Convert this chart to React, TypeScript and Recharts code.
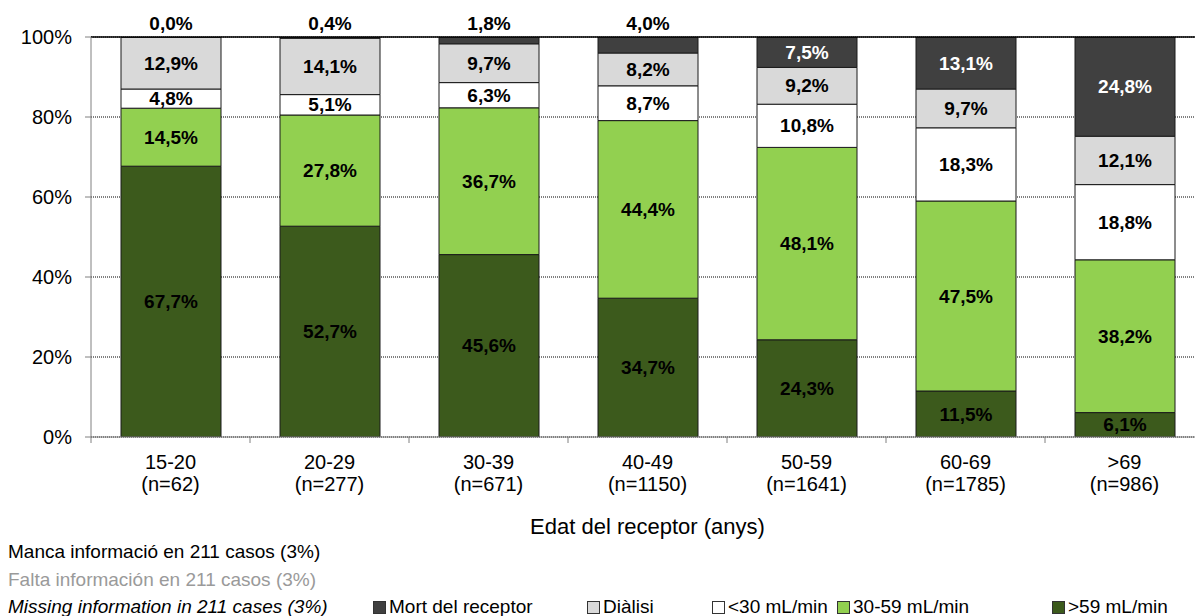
import { BarChart, Bar, XAxis, YAxis, CartesianGrid, ReferenceLine, LabelList } from 'recharts';

const ages = ['15-20', '20-29', '30-39', '40-49', '50-59', '60-69', '>69'];
const nCases = ['(n=62)', '(n=277)', '(n=671)', '(n=1150)', '(n=1641)', '(n=1785)', '(n=986)'];

// percentages, bottom to top of each stack
const over59 = [67.7, 52.7, 45.6, 34.7, 24.3, 11.5, 6.1];
const from30to59 = [14.5, 27.8, 36.7, 44.4, 48.1, 47.5, 38.2];
const under30 = [4.8, 5.1, 6.3, 8.7, 10.8, 18.3, 18.8];
const dialysis = [12.9, 14.1, 9.7, 8.2, 9.2, 9.7, 12.1];
const death = [0.0, 0.4, 1.8, 4.0, 7.5, 13.1, 24.8];

const yTicks = [0, 20, 40, 60, 80, 100];

const notes = [
  'Manca informació en 211 casos (3%)',
  'Falta información en 211 casos (3%)',
  'Missing information in 211 cases (3%)',
];

const series = [
  { key: 'death', name: 'Mort del receptor', color: '#404040' },
  { key: 'dialysis', name: 'Diàlisi', color: '#D9D9D9' },
  { key: 'under30', name: '<30 mL/min', color: '#FFFFFF' },
  { key: 'from30to59', name: '30-59 mL/min', color: '#92D050' },
  { key: 'over59', name: '>59 mL/min', color: '#3C5A1C' },
];

const data = ages.map((age, i) => ({
  age,
  over59: over59[i],
  from30to59: from30to59[i],
  under30: under30[i],
  dialysis: dialysis[i],
  death: death[i],
}));

const FONT = '"Liberation Sans", Arial, sans-serif';
const legendLeft = [373, 587, 712, 837, 1052];

const fmt = (v: number) => `${v.toFixed(1).replace('.', ',')}%`;

const SegmentLabel = (props: any) => {
  const { x, y, width, height, value } = props;
  if (value == null) return null;
  return (
    <text
      x={x + width / 2}
      y={y + height / 2}
      textAnchor="middle"
      dominantBaseline="central"
      fontFamily={FONT}
      fontWeight="bold"
      fontSize={19}
      fill="#000"
    >
      {fmt(Number(value))}
    </text>
  );
};

// dialysis label also carries the small "death" values that sit above the bar
const DialysisLabel = (props: any) => {
  const { x, y, width, height, value, index } = props;
  const d = death[index];
  const deathH = value ? (height * d) / Number(value) : 0;
  return (
    <g>
      <SegmentLabel {...props} />
      {d < 5 && (
        <text x={x + width / 2} y={y - deathH - 7} textAnchor="middle" fontFamily={FONT} fontWeight="bold" fontSize={19} fill="#000">
          {fmt(d)}
        </text>
      )}
    </g>
  );
};

const DeathLabel = (props: any) => {
  const { x, y, width, height, value } = props;
  const v = Number(value);
  if (v < 5) return null;
  return (
    <text
      x={x + width / 2}
      y={y + height / 2}
      textAnchor="middle"
      dominantBaseline="central"
      fontFamily={FONT}
      fontWeight="bold"
      fontSize={19}
      fill="#fff"
    >
      {fmt(v)}
    </text>
  );
};

const AgeTick = (props: any) => {
  const { x, y, payload, index } = props;
  const half = payload && payload.offset ? payload.offset : 79.5;
  const axisY = y - 8;
  return (
    <g>
      <line x1={x - half} x2={x - half} y1={axisY} y2={axisY + 6} stroke="#808080" />
      <text x={x} y={y} textAnchor="middle" fontFamily={FONT} fontSize={20} fill="#000">
        <tspan x={x} dy={24}>{payload.value}</tspan>
        <tspan x={x} dy={22}>{nCases[index]}</tspan>
      </text>
    </g>
  );
};

export default function App() {
  return (
    <div style={{ position: 'absolute', left: 0, top: 0, width: 1195, height: 616, overflow: 'hidden', fontFamily: FONT, background: '#fff' }}>
      <BarChart width={1210} height={616} data={data} margin={{ top: 37, right: 6, left: 0, bottom: 119 }}>
        <CartesianGrid horizontal vertical={false} stroke="#000" strokeDasharray="1 1" />
        <XAxis dataKey="age" height={60} axisLine={{ stroke: '#808080' }} tickLine={false} tick={<AgeTick />} interval={0} />
        <YAxis
          width={91}
          domain={[0, 100]}
          ticks={yTicks}
          allowDataOverflow
          tickFormatter={(v: number) => `${v}%`}
          tickSize={6}
          tickMargin={13}
          axisLine={{ stroke: '#808080' }}
          tickLine={{ stroke: '#808080' }}
          tick={{ fill: '#000', fontSize: 20, fontFamily: FONT }}
        />
        <Bar dataKey="over59" stackId="a" barSize={100} fill="#3C5A1C" stroke="#1a1a1a" isAnimationActive={false}>
          <LabelList dataKey="over59" content={<SegmentLabel />} />
        </Bar>
        <Bar dataKey="from30to59" stackId="a" barSize={100} fill="#92D050" stroke="#1a1a1a" isAnimationActive={false}>
          <LabelList dataKey="from30to59" content={<SegmentLabel />} />
        </Bar>
        <Bar dataKey="under30" stackId="a" barSize={100} fill="#FFFFFF" stroke="#1a1a1a" isAnimationActive={false}>
          <LabelList dataKey="under30" content={<SegmentLabel />} />
        </Bar>
        <Bar dataKey="dialysis" stackId="a" barSize={100} fill="#D9D9D9" stroke="#1a1a1a" isAnimationActive={false}>
          <LabelList dataKey="dialysis" content={<DialysisLabel />} />
        </Bar>
        <Bar dataKey="death" stackId="a" barSize={100} fill="#404040" stroke="#1a1a1a" isAnimationActive={false}>
          <LabelList dataKey="death" content={<DeathLabel />} />
        </Bar>
        <ReferenceLine y={100} stroke="#000" strokeWidth={1.5} />
      </BarChart>

      <div style={{ position: 'absolute', left: 0, width: 1295, top: 514, textAlign: 'center', fontSize: 22, color: '#000' }}>
        Edat del receptor (anys)
      </div>

      {notes.map((t, i) => (
        <div
          key={t}
          style={{
            position: 'absolute',
            left: 8,
            top: 541 + i * 27.5,
            fontSize: 19,
            lineHeight: '22px',
            whiteSpace: 'nowrap',
            color: i === 1 ? '#9a9a9a' : '#000',
            fontStyle: i === 2 ? 'italic' : 'normal',
          }}
        >
          {t}
        </div>
      ))}

      {series.map((s, i) => (
        <div
          key={s.key}
          style={{ position: 'absolute', left: legendLeft[i], top: 596, height: 22, display: 'flex', alignItems: 'center', whiteSpace: 'nowrap', fontSize: 19, color: '#000' }}
        >
          <span style={{ display: 'inline-block', width: 11, height: 11, background: s.color, border: '1px solid #333', marginRight: 3 }} />
          {s.name}
        </div>
      ))}
    </div>
  );
}
